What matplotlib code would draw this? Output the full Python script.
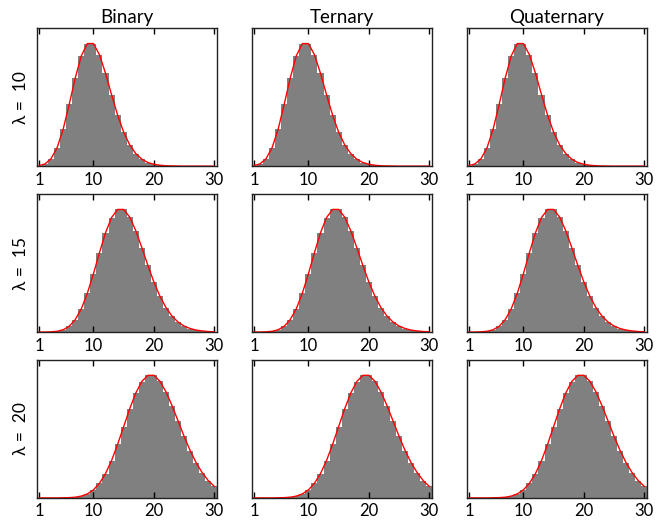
import matplotlib
matplotlib.use('Agg')
import matplotlib.pyplot as plt
import numpy as np

plt.rcParams['font.family'] = ['Lato', 'DejaVu Sans']

columns = ["Binary", "Ternary", "Quaternary"]
lambdas = [10, 15, 20]
k = list(range(1, 31))

# bar heights (relative frequency per integer)
freq_10 = [0.0005, 0.0023, 0.0076, 0.0189, 0.0378, 0.0631, 0.0901, 0.1126, 0.1251, 0.1251,
           0.1137, 0.0948, 0.0729, 0.0521, 0.0347, 0.0217, 0.0128, 0.0071, 0.0037, 0.0019,
           0.0009, 0.0004, 0.0002, 0.0001, 0.0, 0.0, 0.0, 0.0, 0.0, 0.0]
freq_15 = [0.0, 0.0, 0.0002, 0.0006, 0.0019, 0.0048, 0.0104, 0.0194, 0.0324, 0.0486,
           0.0663, 0.0829, 0.0956, 0.1024, 0.1024, 0.0960, 0.0847, 0.0706, 0.0557, 0.0418,
           0.0299, 0.0204, 0.0133, 0.0083, 0.0050, 0.0029, 0.0016, 0.0009, 0.0004, 0.0002]
freq_20 = [0.0, 0.0, 0.0, 0.0, 0.0001, 0.0002, 0.0005, 0.0013, 0.0029, 0.0058,
           0.0106, 0.0176, 0.0271, 0.0388, 0.0517, 0.0646, 0.0760, 0.0844, 0.0889, 0.0889,
           0.0846, 0.0769, 0.0669, 0.0558, 0.0446, 0.0343, 0.0254, 0.0182, 0.0125, 0.0083]
freqs = [freq_10, freq_15, freq_20]

fig, axes = plt.subplots(3, 3, figsize=(6.64, 5.23), dpi=100)
fig.subplots_adjust(left=0.056, right=0.974, top=0.946, bottom=0.048,
                    wspace=0.197, hspace=0.203)

for i in range(3):
    for j in range(3):
        ax = axes[i][j]
        ax.bar(k, freqs[i], width=1.0, color='#808080', linewidth=0)
        ax.plot(k, freqs[i], color='red', lw=1.0)
        ax.set_xlim(0.7, 30.4)
        ax.set_ylim(0, max(freqs[i]) * 1.125)
        ax.set_xticks([1, 10, 20, 30])
        ax.set_yticks([])
        ax.tick_params(axis='x', direction='in', top=True, labelsize=12,
                       length=4, width=1, pad=4)
        for s in ax.spines.values():
            s.set_color('#222222')
            s.set_linewidth(1.0)
        if i == 0:
            ax.set_title(columns[j], fontsize=13.5, pad=4)
        if j == 0:
            ax.set_ylabel("λ =  %d" % lambdas[i], fontsize=12.5, labelpad=6)

plt.savefig("out.png", dpi=100)
